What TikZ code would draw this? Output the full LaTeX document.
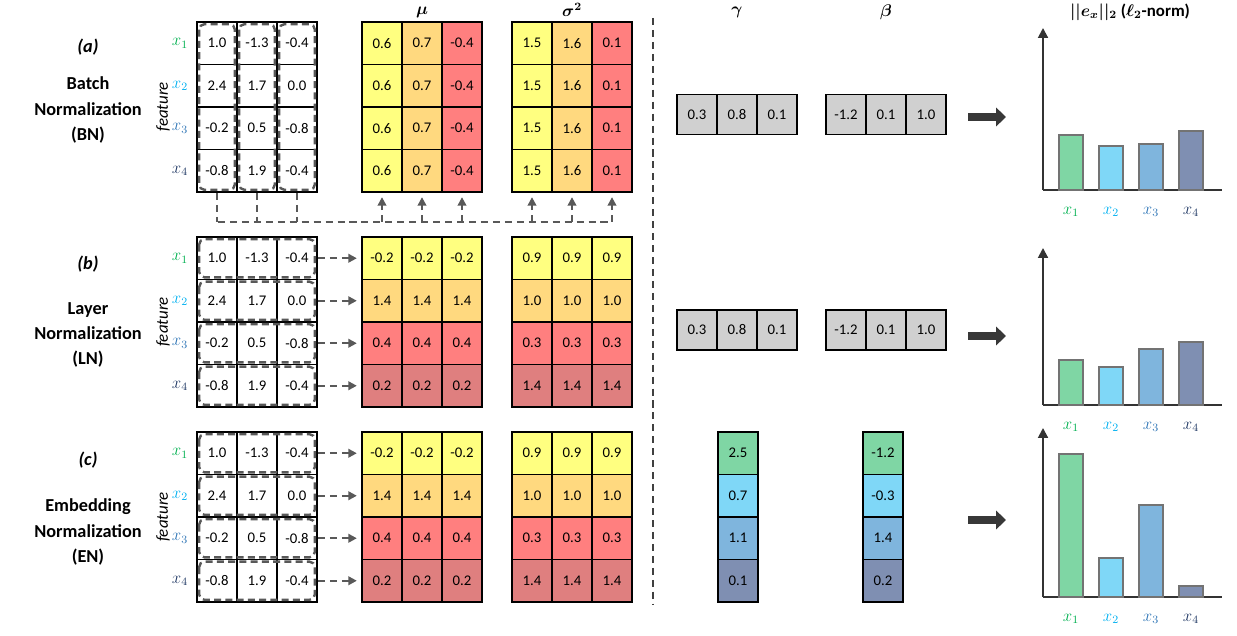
\documentclass[tikz,border=0pt]{standalone}
\usepackage{amsmath}
\usepackage{bm}
\usepackage{fontspec}
\setmainfont{Carlito}
\usetikzlibrary{arrows.meta,calc,positioning}
\definecolor{cy}{HTML}{FFFF80}
\definecolor{co}{HTML}{FFD97F}
\definecolor{cr}{HTML}{FF7F7F}
\definecolor{cd}{HTML}{DF7F7F}
\definecolor{cgr}{HTML}{D0D0D0}
\definecolor{bg}{HTML}{7FD6A4}
\definecolor{bl}{HTML}{7FD7F7}
\definecolor{bb}{HTML}{7FB5DD}
\definecolor{bs}{HTML}{7F8FB2}
\definecolor{xg}{HTML}{00B050}
\definecolor{xl}{HTML}{00B0F0}
\definecolor{xb}{HTML}{2E75B6}
\definecolor{xs}{HTML}{203864}
\definecolor{lnk}{HTML}{595959}
\tikzset{
  cell/.style={draw=black, line width=1.3pt, minimum width=1cm, minimum height=1.0625cm,
               inner sep=0pt, font=\fontsize{10.5}{12}\selectfont},
  gcell/.style={cell, fill=cgr, minimum height=1cm},
  dbox/.style={draw=lnk, line width=1.7pt, dash pattern=on 5pt off 3pt, rounded corners=4pt},
  dlink/.style={draw=lnk, line width=1.5pt, dash pattern=on 5pt off 3.5pt},
  tip/.style={-{Triangle[length=6pt,width=6pt]}, shorten >=3pt},
  fat/.style={draw=black!78, line width=5pt, -{Triangle[length=7pt,width=13pt]}},
  axis/.style={draw=black!80, line width=1.4pt},
  bar/.style={draw=black!55, line width=1.3pt},
  xlab/.style={font=\fontsize{12}{14}\selectfont},
  title/.style={align=center, font=\bfseries\fontsize{13}{18}\selectfont},
  head/.style={font=\fontsize{12}{14}\selectfont}
}
% input matrix: name, top
\newcommand\ingrid[2]{%
  \foreach \vals [count=\r] in {{1.0,-1.3,-0.4},{2.4,1.7,0.0},{-0.2,0.5,-0.8},{-0.8,1.9,-0.4}}
    \foreach \v [count=\c] in \vals
      \node[cell] (#1-\r-\c) at (177+40*\c, #2+42.5*\r-21.25) {\v};
  \foreach \t/\cl [count=\r] in {1/xg,2/xl,3/xb,4/xs}
    \node[xlab, text=\cl] (#1-x\r) at (180, #2+42.5*\r-21.25) {$x_{\t}$};
  \node[rotate=90, font=\itshape\fontsize{12}{14}\selectfont] (#1-feat) at (163, #2+85) {feature};
}
% stat matrix coloured by column: name, left, top, values
\newcommand\colgrid[4]{%
  \foreach \r in {1,...,4}
    \foreach \v/\f [count=\c] in {#4}
      \node[cell, fill=\f] (#1-\r-\c) at (#2+40*\c-20, #3+42.5*\r-21.25) {\v};
}
% stat matrix coloured by row
\newcommand\rowgrid[4]{%
  \foreach \v/\f [count=\r] in {#4}
    \foreach \c in {1,2,3}
      \node[cell, fill=\f] (#1-\r-\c) at (#2+40*\c-20, #3+42.5*\r-21.25) {\v};
}
% bar chart: name, base, axis top, heights
\newcommand\barchart[4]{%
  \coordinate (#1-o) at (1043,#2);
  \coordinate (#1-top) at (1043,#3);
  \coordinate (#1-end) at (1222,#2);
  \draw[axis, -{Triangle[length=7pt,width=7pt]}] (#1-o) -- (#1-top);
  \draw[axis] (#1-o) -- (#1-end);
  \foreach \h/\f/\cl [count=\i] in {#4}{
    \draw[bar, fill=\f] (1019+40*\i,#2) rectangle (1043+40*\i,\h);
    \node[xlab, text=\cl] (#1-l\i) at (1031+40*\i, #2+22) {$x_{\i}$};
  }
}
\begin{document}
\begin{tikzpicture}[x=0.025cm, y=-0.025cm]
\useasboundingbox (0,0) rectangle (1237,636);

% headers
\node[head] (hmu) at (422,12) {$\boldsymbol{\mu}$};
\node[head] (hsig) at (572,10) {$\boldsymbol{\sigma}^{\boldsymbol{2}}$};
\node[head] (hgam) at (737,12) {$\boldsymbol{\gamma}$};
\node[head] (hbet) at (886,12) {$\boldsymbol{\beta}$};
\node[head, font=\bfseries\fontsize{12}{14}\selectfont] (hnorm) at (1130,12)
  {$\boldsymbol{\lvert\lvert e_x\rvert\rvert_2}$ ($\boldsymbol{\ell_2}$-norm)};

% left titles
\node[title, font=\bfseries\itshape\fontsize{13}{18}\selectfont] (ta) at (88,47) {(a)};
\node[title] (tbn) at (88,110) {Batch\\Normalization\\(BN)};
\node[title, font=\bfseries\itshape\fontsize{13}{18}\selectfont] (tb) at (88,264) {(b)};
\node[title] (tln) at (88,335) {Layer\\Normalization\\(LN)};
\node[title, font=\bfseries\itshape\fontsize{13}{18}\selectfont] (tc) at (88,460) {(c)};
\node[title] (ten) at (88,532) {Embedding\\Normalization\\(EN)};

% separator
\coordinate (sep-t) at (653,18);
\coordinate (sep-b) at (653,605);
\draw[dlink, line width=1.6pt, draw=black!75] (sep-t) -- (sep-b);

%%% (a) batch normalization
\ingrid{a-in}{22}
\colgrid{a-mu}{362}{22}{0.6/cy,0.7/co,-0.4/cr}
\colgrid{a-sg}{512}{22}{1.5/cy,1.6/co,0.1/cr}
\foreach \c in {1,2,3}
  \draw[dbox] ($(a-in-1-\c.north west)+(3,3)$) rectangle ($(a-in-4-\c.south east)+(-3,-3)$);
\coordinate (bus-l) at (218,222);
\coordinate (bus-r) at (612,222);
\draw[dlink] (bus-l) -- (bus-r);
\foreach \c in {1,2,3}{
  \draw[dlink] (a-in-4-\c.south) -- (a-in-4-\c.south |- bus-l);
  \draw[dlink, tip] (a-mu-4-\c.south |- bus-l) -- (a-mu-4-\c.south);
  \draw[dlink, tip] (a-sg-4-\c.south |- bus-l) -- (a-sg-4-\c.south);
}
\foreach \v [count=\c] in {0.3,0.8,0.1}
  \node[gcell] (a-g\c) at (657+40*\c,114.5) {\v};
\foreach \v [count=\c] in {-1.2,0.1,1.0}
  \node[gcell] (a-b\c) at (806+40*\c,114.5) {\v};
\coordinate (a-fs) at (968,117);
\coordinate (a-fe) at (1006,117);
\draw[fat] (a-fs) -- (a-fe);
\barchart{a-ch}{190}{28}{135/bg/xg,146/bl/xl,144/bb/xb,131/bs/xs}

%%% (b) layer normalization
\ingrid{b-in}{237}
\rowgrid{b-mu}{362}{237}{-0.2/cy,1.4/co,0.4/cr,0.2/cd}
\rowgrid{b-sg}{512}{237}{0.9/cy,1.0/co,0.3/cr,1.4/cd}
\foreach \r in {1,...,4}{
  \draw[dbox] ($(b-in-\r-1.north west)+(3,3)$) rectangle ($(b-in-\r-3.south east)+(-3,-3)$);
  \draw[dlink, tip] (b-in-\r-3.east) -- (b-mu-\r-1.west);
}
\foreach \v [count=\c] in {0.3,0.8,0.1}
  \node[gcell] (b-g\c) at (657+40*\c,330) {\v};
\foreach \v [count=\c] in {-1.2,0.1,1.0}
  \node[gcell] (b-b\c) at (806+40*\c,330) {\v};
\coordinate (b-fs) at (968,336);
\coordinate (b-fe) at (1006,336);
\draw[fat] (b-fs) -- (b-fe);
\barchart{b-ch}{405}{248}{360/bg/xg,367/bl/xl,349/bb/xb,342/bs/xs}

%%% (c) embedding normalization
\ingrid{c-in}{432}
\rowgrid{c-mu}{362}{432}{-0.2/cy,1.4/co,0.4/cr,0.2/cd}
\rowgrid{c-sg}{512}{432}{0.9/cy,1.0/co,0.3/cr,1.4/cd}
\foreach \r in {1,...,4}{
  \draw[dbox] ($(c-in-\r-1.north west)+(3,3)$) rectangle ($(c-in-\r-3.south east)+(-3,-3)$);
  \draw[dlink, tip] (c-in-\r-3.east) -- (c-mu-\r-1.west);
}
\foreach \v/\f [count=\r] in {2.5/bg,0.7/bl,1.1/bb,0.1/bs}
  \node[cell, fill=\f] (c-g\r) at (738, 432+42.5*\r-21.25) {\v};
\foreach \v/\f [count=\r] in {-1.2/bg,-0.3/bl,1.4/bb,0.2/bs}
  \node[cell, fill=\f] (c-b\r) at (883, 432+42.5*\r-21.25) {\v};
\coordinate (c-fs) at (968,520);
\coordinate (c-fe) at (1006,520);
\draw[fat] (c-fs) -- (c-fe);
\barchart{c-ch}{597}{428}{454/bg/xg,558/bl/xl,505/bb/xb,586/bs/xs}
\end{tikzpicture}
\end{document}
